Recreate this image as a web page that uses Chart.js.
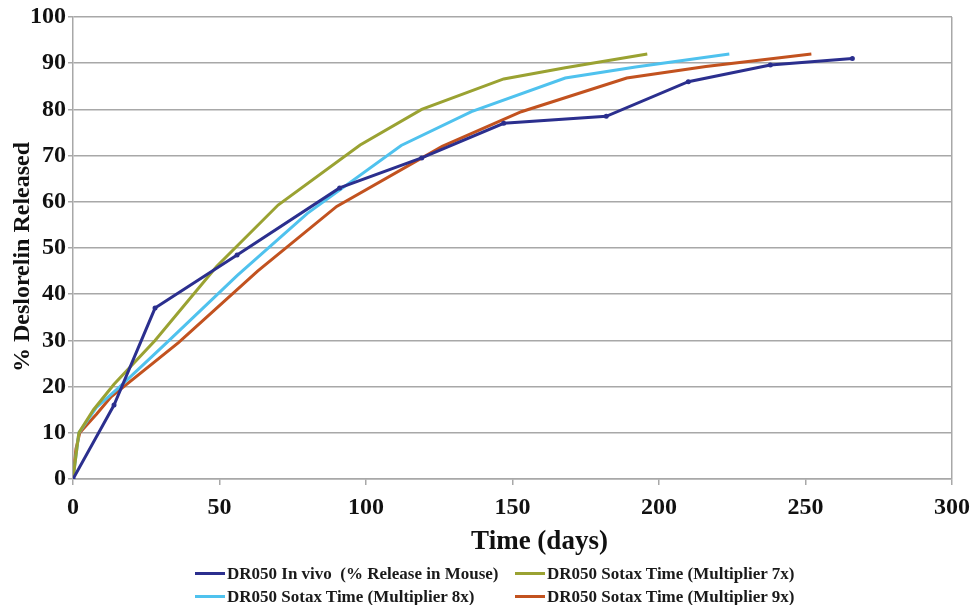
<!DOCTYPE html>
<html>
<head>
<meta charset="utf-8">
<script src="https://cdn.jsdelivr.net/npm/chart.js@4"></script>
<style>
  html, body { margin: 0; padding: 0; background: #fff; }
  #wrap { position: relative; width: 978px; height: 605px; }
  #legend { position: absolute; left: 0; top: 562px; width: 978px; font: bold 17px "Liberation Serif", serif; color: #1a1a1a; }
  .item { position: absolute; height: 23px; line-height: 23px; white-space: pre; }
  .swatch { position: absolute; left: 0; top: 10px; width: 30px; height: 3px; }
  .item span.txt { position: absolute; left: 32px; top: 0; }
</style>
</head>
<body>
<div id="wrap">
  <canvas id="chart" width="978" height="605"></canvas>
  <div id="legend"></div>
</div>
<script>
const seriesLabels = [
    "DR050 In vivo  (% Release in Mouse)",
    "DR050 Sotax Time (Multiplier 7x)",
    "DR050 Sotax Time (Multiplier 8x)",
    "DR050 Sotax Time (Multiplier 9x)"
];
const seriesColors = ["#2b2f8e", "#9aa232", "#4fc2ee", "#c2521f"];

const inVivoDays = [0, 14, 28, 56, 91, 119, 147, 182, 210, 238, 266];
const inVivoRelease = [0, 16, 37, 48.5, 63, 69.5, 77, 78.5, 86, 89.6, 91];

const sotax7Days = [0, 2, 7, 14, 28, 49, 70, 98, 119, 147, 168, 196];
const sotax7Release = [0, 10, 15, 20.5, 30, 46, 59.3, 72.3, 80, 86.6, 89, 92];

const sotax8Days = [0, 2, 8, 16, 32, 56, 80, 112, 136, 168, 192, 224];
const sotax8Release = [0, 10, 15.5, 20, 29.5, 44, 57.5, 72.2, 79.5, 86.8, 89.2, 92];

const sotax9Days = [0, 1, 2.3, 8, 13, 36, 63, 90, 126, 153, 189, 216, 252];
const sotax9Release = [0, 6.5, 10, 14, 17.8, 29.5, 45, 59, 72, 79.5, 86.8, 89.3, 92];

const xTicks = [0, 50, 100, 150, 200, 250, 300];
const yTicks = [0, 10, 20, 30, 40, 50, 60, 70, 80, 90, 100];

const gridGray = "#a8a8a8";
const serif = "'Liberation Serif', 'Times New Roman', serif";

function toPoints(xs, ys) {
    return xs.map((x, i) => ({x: x, y: ys[i]}));
}

const seriesData = [
    toPoints(inVivoDays, inVivoRelease),
    toPoints(sotax7Days, sotax7Release),
    toPoints(sotax8Days, sotax8Release),
    toPoints(sotax9Days, sotax9Release)
];

// in vivo drawn last so it sits on top, like the original
const drawOrder = [1, 2, 3, 0];
const datasets = drawOrder.map(i => ({
    label: seriesLabels[i],
    data: seriesData[i],
    borderColor: seriesColors[i],
    backgroundColor: seriesColors[i],
    borderWidth: 3,
    pointRadius: i === 0 ? 1 : 0,
    showLine: true,
    tension: 0,
    order: i === 0 ? 0 : 1
}));

const ctx = document.getElementById("chart").getContext("2d");
const chart = new Chart(ctx, {
    type: "scatter",
    data: {datasets: datasets},
    options: {
        responsive: false,
        animation: false,
        layout: {padding: {top: 17, right: 26, bottom: 45, left: 0}},
        plugins: {
            legend: {display: false},
            tooltip: {enabled: false}
        },
        scales: {
            x: {
                type: "linear",
                min: 0,
                max: 300,
                afterBuildTicks: scale => { scale.ticks = xTicks.map(v => ({value: v})); },
                afterFit: scale => { scale.height = 81; },
                ticks: {
                    color: "#111",
                    font: {family: serif, size: 24, weight: "bold"},
                    padding: 8,
                    maxRotation: 0
                },
                grid: {
                    color: c => (c.tick && c.tick.value === 300) ? gridGray : "rgba(0,0,0,0)",
                    tickColor: gridGray,
                    tickLength: 6,
                    lineWidth: 1.5
                },
                border: {color: gridGray, width: 1.5},
                title: {
                    display: true,
                    text: "        Time (days)",
                    color: "#111",
                    font: {family: serif, size: 27, weight: "bold"},
                    padding: {top: 0, bottom: 2}
                }
            },
            y: {
                type: "linear",
                min: 0,
                max: 100,
                afterBuildTicks: scale => { scale.ticks = yTicks.map(v => ({value: v})); },
                afterFit: scale => { scale.width = 73; },
                ticks: {
                    color: "#111",
                    font: {family: serif, size: 24, weight: "bold"},
                    padding: 2
                },
                grid: {
                    color: gridGray,
                    tickColor: gridGray,
                    tickLength: 5,
                    lineWidth: 1.5
                },
                border: {color: gridGray, width: 1.5},
                title: {
                    display: true,
                    text: "% Deslorelin Released   ",
                    color: "#111",
                    font: {family: serif, size: 24, weight: "bold"},
                    padding: {top: 8, bottom: 0}
                }
            }
        }
    }
});

// legend laid out in two aligned columns, built from the chart's datasets
const legendEl = document.getElementById("legend");
const colLeft = [195, 515];
seriesLabels.forEach((label, i) => {
    const ds = chart.data.datasets.find(d => d.label === label);
    const item = document.createElement("div");
    item.className = "item";
    item.style.left = colLeft[i % 2] + "px";
    item.style.top = (Math.floor(i / 2) * 23) + "px";
    item.innerHTML = `<div class="swatch" style="background:${ds.borderColor}"></div><span class="txt"></span>`;
    item.querySelector(".txt").textContent = label;
    legendEl.appendChild(item);
});
</script>
</body>
</html>
